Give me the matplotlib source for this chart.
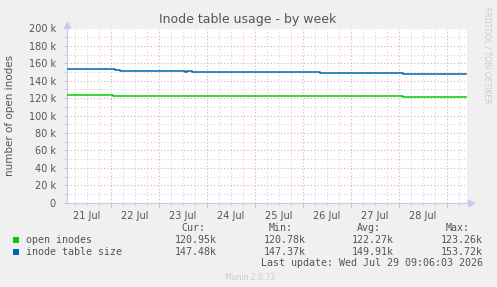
import datetime

import matplotlib
matplotlib.use('Agg')
import matplotlib.pyplot as plt
import matplotlib.dates as mdates
from matplotlib.patches import Rectangle
from matplotlib.ticker import MultipleLocator, FuncFormatter

# step changes (time, value in thousands)
blue_times = ['2026-07-21 02:00', '2026-07-22 02:00', '2026-07-22 04:30', '2026-07-23 13:00',
              '2026-07-23 14:00', '2026-07-23 16:30', '2026-07-26 08:30', '2026-07-26 10:00',
              '2026-07-28 02:00', '2026-07-29 09:30']
blue_values = [153.70, 152.30, 151.00, 150.40, 151.00, 149.90, 149.40, 148.80, 147.45, 147.45]

green_times = ['2026-07-21 02:00', '2026-07-22 01:00', '2026-07-22 02:30', '2026-07-22 04:00',
               '2026-07-28 02:00', '2026-07-29 09:30']
green_values = [123.26, 122.00, 122.60, 122.35, 120.95, 120.95]

legend_names = ['open inodes', 'inode table size']
legend_colors = ['#00cc00', '#0066b3']
cur_vals = ['120.95k', '147.48k']
min_vals = ['120.78k', '147.37k']
avg_vals = ['122.27k', '149.91k']
max_vals = ['123.26k', '153.72k']

x_start = '2026-07-21 02:00'
x_end = '2026-07-29 10:00'
last_update = 'Last update: Wed Jul 29 09:06:03 2026'


def to_dt(s):
    return datetime.datetime.strptime(s, '%Y-%m-%d %H:%M')


W, H = 497, 287
fig = plt.figure(figsize=(W / 100, H / 100), dpi=100, facecolor='#f0f0f0')
ax = fig.add_axes([67 / W, 1 - 202.7 / H, 400 / W, 174.2 / H], facecolor='white')

ax.plot([to_dt(t) for t in green_times], [v * 1000 for v in green_values],
        drawstyle='steps-post', color=legend_colors[0], lw=1.1, zorder=5)
ax.plot([to_dt(t) for t in blue_times], [v * 1000 for v in blue_values],
        drawstyle='steps-post', color=legend_colors[1], lw=1.1, zorder=5)

ax.set_xlim(to_dt(x_start), to_dt(x_end))
ax.set_ylim(0, 200000)

ax.yaxis.set_major_locator(MultipleLocator(20000))
ax.yaxis.set_minor_locator(MultipleLocator(10000))
ax.yaxis.set_major_formatter(FuncFormatter(lambda v, p: '0' if v == 0 else '%d k' % (v / 1000)))

ax.xaxis.set_major_locator(mdates.DayLocator())
ax.xaxis.set_minor_locator(mdates.HourLocator(byhour=[0, 6, 12, 18]))
ax.xaxis.set_major_formatter(FuncFormatter(lambda v, p: ''))


def day_label(v, p):
    d = mdates.num2date(v)
    return d.strftime('%d %b').lstrip('0') if d.hour == 12 else ''


ax.xaxis.set_minor_formatter(FuncFormatter(day_label))

ax.grid(which='minor', color='#d4d4d4', linestyle=(0, (1, 2)), lw=0.8, zorder=1)
ax.grid(which='major', color='#e8a8a8', linestyle=(0, (1, 2)), lw=0.8, zorder=2)
ax.set_axisbelow(True)

ax.tick_params(axis='both', which='both', colors='#555555', labelsize=7, length=2, width=0.6, pad=2)
ax.tick_params(axis='x', which='major', length=3, color='#e8a8a8')
ax.tick_params(axis='x', which='minor', color='#cccccc', pad=4)
ax.tick_params(axis='y', which='major', color='#e8a8a8', pad=6)
ax.tick_params(axis='y', which='minor', color='#cccccc')

for side in ['top', 'right']:
    ax.spines[side].set_visible(False)
for side in ['left', 'bottom']:
    ax.spines[side].set_color('#c8c8f0')
    ax.spines[side].set_linewidth(0.8)
ax.plot(0, 1.02, marker='^', color='#c8c8f0', ms=4, transform=ax.transAxes, clip_on=False)
ax.plot(1.01, 0, marker='>', color='#c8c8f0', ms=4, transform=ax.transAxes, clip_on=False)

ax.set_ylabel('number of open inodes', color='#555555', fontsize=7.5, labelpad=10)
fig.text(248 / W, 1 - 19 / H, 'Inode table usage - by week', ha='center', va='center',
         color='#555555', fontsize=9)
fig.text(487 / W, 1 - 6 / H, 'RRDTOOL / TOBI OETIKER', rotation=-90, ha='center', va='top',
         color='#cccccc', fontsize=5.5)

mono = dict(family='DejaVu Sans Mono', fontsize=7.2, color='#555555')
row_y = [240, 252]
fig.text(193 / W, 1 - 228 / H, 'Cur:', ha='center', va='center', **mono)
fig.text(281 / W, 1 - 228 / H, 'Min:', ha='center', va='center', **mono)
fig.text(369 / W, 1 - 228 / H, 'Avg:', ha='center', va='center', **mono)
fig.text(458 / W, 1 - 228 / H, 'Max:', ha='center', va='center', **mono)
for i, name in enumerate(legend_names):
    y = 1 - row_y[i] / H
    fig.add_artist(Rectangle((13 / W, y - 3 / H), 6 / W, 6 / H, transform=fig.transFigure,
                             color=legend_colors[i], lw=0))
    fig.text(26 / W, y, name, ha='left', va='center', **mono)
    fig.text(217 / W, y, cur_vals[i], ha='right', va='center', **mono)
    fig.text(306 / W, y, min_vals[i], ha='right', va='center', **mono)
    fig.text(394 / W, y, avg_vals[i], ha='right', va='center', **mono)
    fig.text(483 / W, y, max_vals[i], ha='right', va='center', **mono)
fig.text(483 / W, 1 - 263 / H, last_update, ha='right', va='center', **mono)
fig.text(250 / W, 1 - 277 / H, 'Munin 2.0.73', ha='center', va='center', color='#cccccc', fontsize=5.5)

fig.savefig('out.png', dpi=100, facecolor=fig.get_facecolor())
